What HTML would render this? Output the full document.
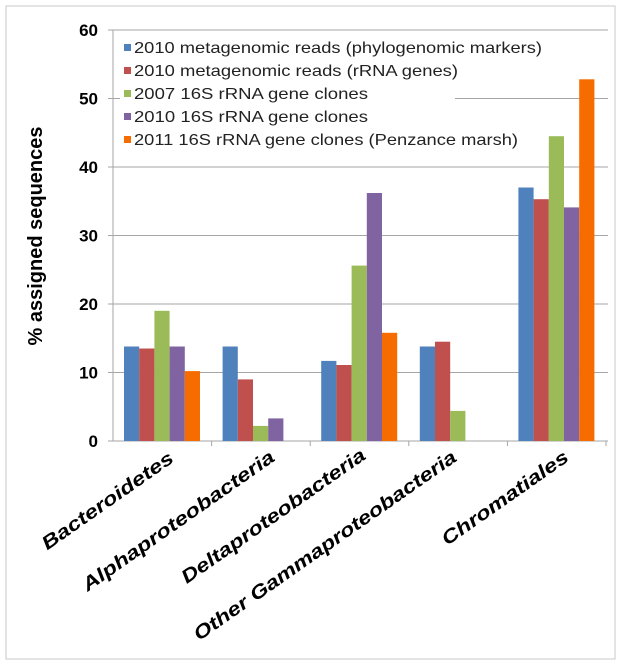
<!DOCTYPE html>
<html><head><meta charset="utf-8"><style>
body{margin:0;background:#fff;}
svg{display:block;}
</style></head><body>
<svg width="620" height="665" xmlns="http://www.w3.org/2000/svg" font-family="Liberation Sans, Arial, sans-serif">
<rect x="6" y="6" width="609" height="653" fill="#fff" stroke="#c8c8c8" stroke-width="1"/>
<g stroke="#a6a6a6" stroke-width="1">
<line x1="108" y1="30" x2="608" y2="30"/>
<line x1="108" y1="98.5" x2="608" y2="98.5"/>
<line x1="108" y1="167" x2="608" y2="167"/>
<line x1="108" y1="235.5" x2="608" y2="235.5"/>
<line x1="108" y1="304" x2="608" y2="304"/>
<line x1="108" y1="372.5" x2="608" y2="372.5"/>
<line x1="113" y1="30" x2="113" y2="441"/>
<line x1="108" y1="441" x2="608" y2="441"/>
<line x1="211.6" y1="441" x2="211.6" y2="446"/>
<line x1="310.2" y1="441" x2="310.2" y2="446"/>
<line x1="408.8" y1="441" x2="408.8" y2="446"/>
<line x1="507.4" y1="441" x2="507.4" y2="446"/>
<line x1="606" y1="441" x2="606" y2="446"/>
</g>
<g>
<rect x="124" y="346.5" width="15.2" height="94.5" fill="#4f81bd"/>
<rect x="139.2" y="348.5" width="15.2" height="92.5" fill="#c0504d"/>
<rect x="154.4" y="310.8" width="15.2" height="130.2" fill="#9bbb59"/>
<rect x="169.6" y="346.5" width="15.2" height="94.5" fill="#8064a2"/>
<rect x="184.8" y="371.1" width="15.2" height="69.9" fill="#f66c00"/>

<rect x="222.6" y="346.5" width="15.2" height="94.5" fill="#4f81bd"/>
<rect x="237.8" y="379.4" width="15.2" height="61.6" fill="#c0504d"/>
<rect x="253" y="425.9" width="15.2" height="15.1" fill="#9bbb59"/>
<rect x="268.2" y="418.4" width="15.2" height="22.6" fill="#8064a2"/>

<rect x="321.2" y="360.9" width="15.2" height="80.1" fill="#4f81bd"/>
<rect x="336.4" y="365" width="15.2" height="76" fill="#c0504d"/>
<rect x="351.6" y="265.6" width="15.2" height="175.4" fill="#9bbb59"/>
<rect x="366.8" y="193" width="15.2" height="248" fill="#8064a2"/>
<rect x="382" y="332.8" width="15.2" height="108.2" fill="#f66c00"/>

<rect x="419.8" y="346.5" width="15.2" height="94.5" fill="#4f81bd"/>
<rect x="435" y="341.7" width="15.2" height="99.3" fill="#c0504d"/>
<rect x="450.2" y="410.9" width="15.2" height="30.1" fill="#9bbb59"/>

<rect x="518.4" y="187.5" width="15.2" height="253.5" fill="#4f81bd"/>
<rect x="533.6" y="199.2" width="15.2" height="241.8" fill="#c0504d"/>
<rect x="548.8" y="136.2" width="15.2" height="304.8" fill="#9bbb59"/>
<rect x="564" y="207.4" width="15.2" height="233.6" fill="#8064a2"/>
<rect x="579.2" y="79.3" width="15.2" height="361.7" fill="#f66c00"/>
</g>
<rect x="120" y="36" width="335" height="118" fill="#fff"/>
<g font-size="17" font-weight="bold" fill="#000" text-anchor="end">
<text x="98" y="36">60</text><text x="98" y="104.5">50</text><text x="98" y="173">40</text>
<text x="98" y="241.5">30</text><text x="98" y="310">20</text><text x="98" y="378.5">10</text><text x="98" y="447">0</text>
</g>
<text transform="translate(42,236) rotate(-90)" text-anchor="middle" font-size="20" font-weight="bold">% assigned sequences</text>
<g font-size="16" fill="#222">
<rect x="124" y="44" width="7" height="7" fill="#4f81bd"/><text x="134" y="53" textLength="408" lengthAdjust="spacingAndGlyphs">2010 metagenomic reads (phylogenomic markers)</text>
<rect x="124" y="67" width="7" height="7" fill="#c0504d"/><text x="134" y="76" textLength="324" lengthAdjust="spacingAndGlyphs">2010 metagenomic reads (rRNA genes)</text>
<rect x="124" y="90" width="7" height="7" fill="#9bbb59"/><text x="134" y="99" textLength="234" lengthAdjust="spacingAndGlyphs">2007 16S rRNA gene clones</text>
<rect x="124" y="113" width="7" height="7" fill="#8064a2"/><text x="134" y="122" textLength="234" lengthAdjust="spacingAndGlyphs">2010 16S rRNA gene clones</text>
<rect x="124" y="136" width="7" height="7" fill="#f66c00"/><text x="134" y="145" textLength="384" lengthAdjust="spacingAndGlyphs">2011 16S rRNA gene clones (Penzance marsh)</text>
</g>
<g font-size="19" font-weight="bold" font-style="italic" text-anchor="end">
<text transform="translate(175,461) rotate(-35)" textLength="156" lengthAdjust="spacingAndGlyphs">Bacteroidetes</text>
<text transform="translate(276,460) rotate(-35)" textLength="230" lengthAdjust="spacingAndGlyphs">Alphaproteobacteria</text>
<text transform="translate(367,458) rotate(-35)" textLength="220" lengthAdjust="spacingAndGlyphs">Deltaproteobacteria</text>
<text transform="translate(458,460) rotate(-35)" textLength="316" lengthAdjust="spacingAndGlyphs">Other Gammaproteobacteria</text>
<text transform="translate(570,460) rotate(-35)" textLength="150" lengthAdjust="spacingAndGlyphs">Chromatiales</text>
</g>
</svg>
</body></html>
